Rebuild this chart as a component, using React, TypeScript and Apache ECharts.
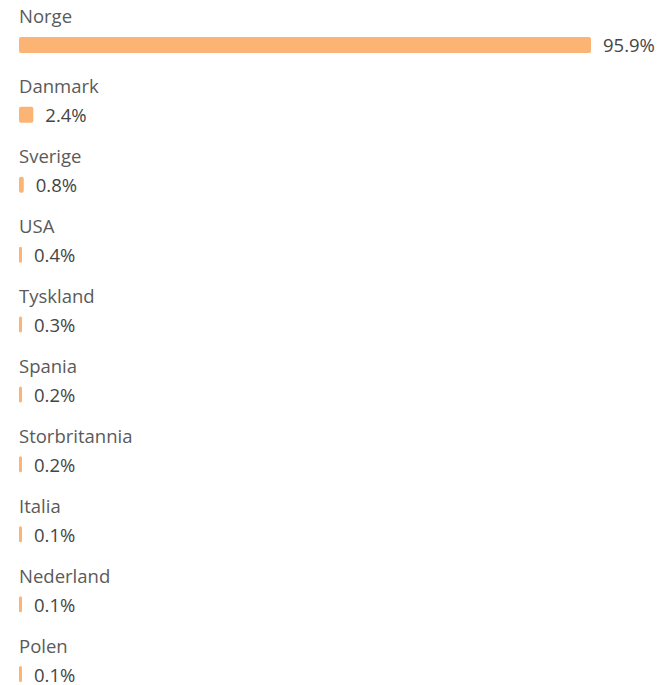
import React, { useEffect, useRef } from "react";
import * as echarts from "echarts";

const categories = ["Norge", "Danmark", "Sverige", "USA", "Tyskland", "Spania", "Storbritannia", "Italia", "Nederland", "Polen"];
const values = [95.9, 2.4, 0.8, 0.4, 0.3, 0.2, 0.2, 0.1, 0.1, 0.1];

export default function App() {
  const ref = useRef<HTMLDivElement>(null);
  useEffect(() => {
    document.body.style.margin = "0";
    document.body.style.overflow = "hidden";
    const chart = echarts.init(ref.current!, null, { renderer: "svg" });
    const font = "'Open Sans', sans-serif";
    chart.setOption({
      animation: false,
      grid: { left: 19, right: 70, top: 10, bottom: 0, containLabel: false },
      xAxis: { type: "value", min: 0, max: "dataMax", show: false },
      yAxis: { type: "category", data: categories, inverse: true, show: false },
      series: [
        {
          type: "bar",
          data: values,
          barWidth: 16,
          barMinHeight: 3,
          itemStyle: { color: "#FBB474", borderRadius: 2 },
          label: {
            show: true,
            position: "right",
            distance: 12,
            formatter: (p: any) => p.value.toFixed(1) + "%",
            color: "#454545",
            fontSize: 18.5,
            lineHeight: 19,
            fontFamily: font,
          },
          silent: true,
        },
        {
          type: "bar",
          data: values,
          barWidth: 16,
          barGap: "-100%",
          barMinHeight: 3,
          itemStyle: { color: "rgba(0,0,0,0)" },
          label: {
            show: true,
            position: [0, -21],
            verticalAlign: "middle",
            align: "left",
            formatter: "{b}",
            color: "#5a5a5a",
            fontSize: 18.5,
            lineHeight: 19,
            fontFamily: font,
          },
          silent: true,
        },
      ],
    });
    return () => chart.dispose();
  }, []);
  return <div ref={ref} style={{ width: 661, height: 709 }} />;
}
